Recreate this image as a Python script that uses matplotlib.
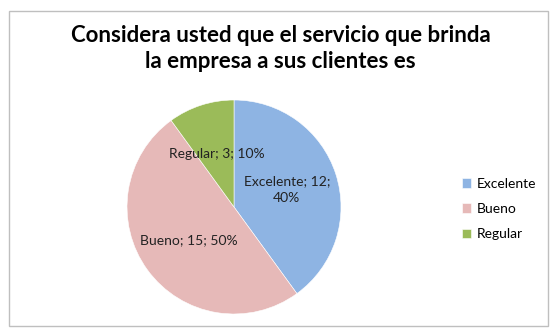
import matplotlib.pyplot as plt
from matplotlib.patches import Rectangle

# chart data
categories = ['Excelente', 'Bueno', 'Regular']
values = [12, 15, 3]
percents = ['40%', '50%', '10%']
colors = ['#8EB4E3', '#E6B9B8', '#9BBB59']

plt.rcParams['font.family'] = ['Lato', 'DejaVu Sans']

fig = plt.figure(figsize=(5.58, 3.32), dpi=100)

# outer chart border
fig.patches.append(Rectangle((9 / 558, 6 / 332), 539 / 558, 315 / 332,
                             transform=fig.transFigure, fill=False,
                             edgecolor='#BFBFBF', linewidth=1.0))

fig.text(0.503, 0.853, 'Considera usted que el servicio que brinda\nla empresa a sus clientes es',
         ha='center', va='center', fontsize=16, fontweight='bold',
         linespacing=1.3)

# pie area (square in pixels)
ax = fig.add_axes([127 / 558, 18 / 332, 214 / 558, 214 / 332])
labels = [f'{c}; {v};\n{p}' if c == 'Excelente' else f'{c}; {v}; {p}'
          for c, v, p in zip(categories, values, percents)]
wedges, texts = ax.pie(values, colors=colors, startangle=90, counterclock=False,
                       labels=labels, labeldistance=0.52,
                       wedgeprops=dict(edgecolor='white', linewidth=0.4),
                       textprops=dict(fontsize=10, color='#222222', ha='center',
                                      va='center', linespacing=1.5))
ax.set_xlim(-1, 1)
ax.set_ylim(-1, 1)
ax.set_aspect('auto')

fig.legend(wedges, categories, loc='center left', bbox_to_anchor=(449 / 558, 0.37),
           frameon=False, fontsize=10, handlelength=0.7, handleheight=0.7,
           handletextpad=0.4, labelspacing=0.95)

fig.savefig('out.png', dpi=100)
